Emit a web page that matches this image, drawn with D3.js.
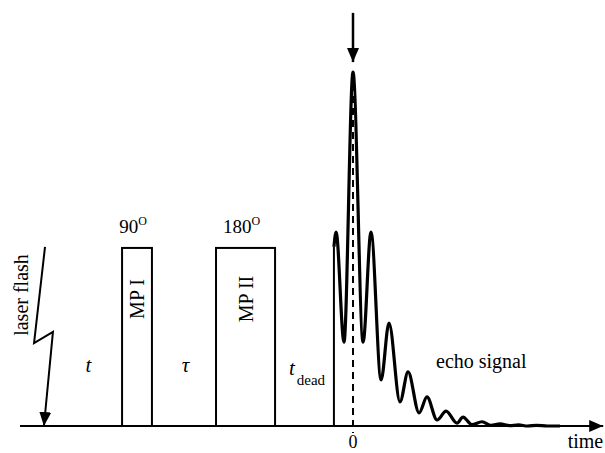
<!DOCTYPE html>
<html>
<head>
<meta charset="utf-8">
<script src="https://cdn.jsdelivr.net/npm/d3@7"></script>
<style>
  body { margin: 0; background: #fff; }
</style>
</head>
<body>
<div id="chart"></div>
<script>
// pulse sequence: laser flash, two microwave pulses, echo
const width = 605, height = 453;
const serif = "'Liberation Serif', 'DejaVu Serif', 'Times New Roman', serif";

// time in arbitrary units, echo maximum at 0
const pulseNames = ["MP I", "MP II"];
const pulseStart = [-12.83, -7.61];
const pulseEnd = [-11.17, -4.33];
const pulseAmp = [0.503, 0.503];
const pulseAngle = ["90", "180"];

const echoStartT = -1.06, echoStartA = 0.506;
const echoT = [-1.06, -0.94, -0.5, 0, 0.56, 1.0, 1.56, 2.0, 2.61, 3.06, 3.67, 4.11, 4.67, 5.17, 5.78, 6.11, 6.6, 7.17, 7.67, 8.17, 8.7, 9.2, 9.7, 10.2, 10.8, 11.5];
const echoA = [0.506, 0.548, 0.237, 1.0, 0.237, 0.548, 0.13, 0.291, 0.068, 0.153, 0.037, 0.082, 0.017, 0.042, 0.008, 0.025, 0.004, 0.012, 0.002, 0.006, 0.001, 0.003, 0.0, 0.002, 0.0, 0.0];

const flashT = [-17.11, -17.72, -16.67, -17.17];
const flashA = [0.506, 0.234, 0.266, 0.0];

const gapLabels = ["t", "τ", "t"];
const gapT = [-14.7, -9.3, -3.4];

const axisRange = [-18.5, 13.9];

let svg = d3.select("#chart")
    .append("svg")
    .attr("width", width)
    .attr("height", height)
    .attr("font-family", serif);

let x = d3.scaleLinear().domain([-19, 14]).range([11, 605]);
let y = d3.scaleLinear().domain([0, 1]).range([426, 72]);

let defs = svg.append("defs");
defs.append("marker")
    .attr("id", "head")
    .attr("markerUnits", "userSpaceOnUse")
    .attr("viewBox", "0 0 14 12")
    .attr("refX", 14).attr("refY", 6)
    .attr("markerWidth", 14).attr("markerHeight", 12)
    .attr("orient", "auto")
    .append("path")
    .attr("d", "M0,0 L14,6 L0,12 Z")
    .attr("fill", "#000");

// time axis
svg.append("line")
    .attr("x1", x(axisRange[0])).attr("x2", x(axisRange[1]))
    .attr("y1", y(0)).attr("y2", y(0))
    .attr("stroke", "#000").attr("stroke-width", 2)
    .attr("marker-end", "url(#head)");

svg.append("text")
    .attr("x", x(axisRange[1])).attr("y", 448)
    .attr("font-family", serif)
    .style("text-anchor", "end")
    .style("font-size", "20px")
    .text("time");

// laser flash
let line = d3.line().x(d => x(d[0])).y(d => y(d[1]));
svg.append("path")
    .attr("d", line(d3.zip(flashT, flashA)))
    .attr("fill", "none").attr("stroke", "#000").attr("stroke-width", 2)
    .attr("marker-end", "url(#head)");

svg.append("text")
    .attr("transform", `translate(28, 295) rotate(-90)`)
    .attr("font-family", serif)
    .style("text-anchor", "middle")
    .style("font-size", "20px")
    .text("laser flash");

// microwave pulses
pulseNames.forEach((name, i) => {
    svg.append("rect")
        .attr("x", x(pulseStart[i]))
        .attr("y", y(pulseAmp[i]))
        .attr("width", x(pulseEnd[i]) - x(pulseStart[i]))
        .attr("height", y(0) - y(pulseAmp[i]))
        .attr("fill", "none").attr("stroke", "#000").attr("stroke-width", 2);

    let cx = (x(pulseStart[i]) + x(pulseEnd[i])) / 2;
    svg.append("text")
        .attr("transform", `translate(${cx + 7}, ${y(pulseAmp[i] / 2) - 38}) rotate(-90)`)
        .attr("font-family", serif)
        .style("text-anchor", "middle")
        .style("font-size", "20px")
        .text(name);

    let lab = svg.append("text")
        .attr("x", cx - 4).attr("y", y(pulseAmp[i]) - 15)
        .attr("font-family", serif)
        .style("text-anchor", "middle")
        .style("font-size", "19px")
        .text(pulseAngle[i]);
    lab.append("tspan")
        .attr("dy", -8)
        .style("font-size", "12px")
        .text("O");
});

// interval labels
gapLabels.forEach((g, i) => {
    svg.append("text")
        .attr("x", x(gapT[i])).attr("y", i == 2 ? 375 : 372)
        .attr("font-family", serif)
        .style("font-size", "21px")
        .style("font-style", "italic")
        .style("text-anchor", "middle")
        .text(g);
});
svg.append("text")
    .attr("x", x(gapT[2]) + 5).attr("y", 385)
    .attr("font-family", serif)
    .style("font-size", "15px")
    .text("dead");

// echo
svg.append("line")
    .attr("x1", x(echoStartT)).attr("x2", x(echoStartT))
    .attr("y1", y(0)).attr("y2", y(echoStartA))
    .attr("stroke", "#000").attr("stroke-width", 2);

let curve = d3.line()
    .x(d => x(d[0])).y(d => y(d[1]))
    .curve(d3.curveMonotoneX);
svg.append("path")
    .attr("d", curve(d3.zip(echoT, echoA)))
    .attr("fill", "none").attr("stroke", "#000")
    .attr("stroke-width", 3.2).attr("stroke-linejoin", "round");

svg.append("line")
    .attr("x1", x(0)).attr("x2", x(0))
    .attr("y1", y(1)).attr("y2", y(-0.02))
    .attr("stroke", "#000").attr("stroke-width", 2)
    .attr("stroke-dasharray", "7,5");

svg.append("text")
    .attr("x", x(0)).attr("y", 448)
    .attr("font-family", serif)
    .style("text-anchor", "middle")
    .style("font-size", "18px")
    .text("0");

svg.append("line")
    .attr("x1", x(0)).attr("x2", x(0))
    .attr("y1", y(1.167)).attr("y2", y(1.028))
    .attr("stroke", "#000").attr("stroke-width", 2.5)
    .attr("marker-end", "url(#head)");

svg.append("text")
    .attr("x", 436).attr("y", 368)
    .attr("font-family", serif)
    .style("font-size", "20px")
    .text("echo signal");
</script>
</body>
</html>
